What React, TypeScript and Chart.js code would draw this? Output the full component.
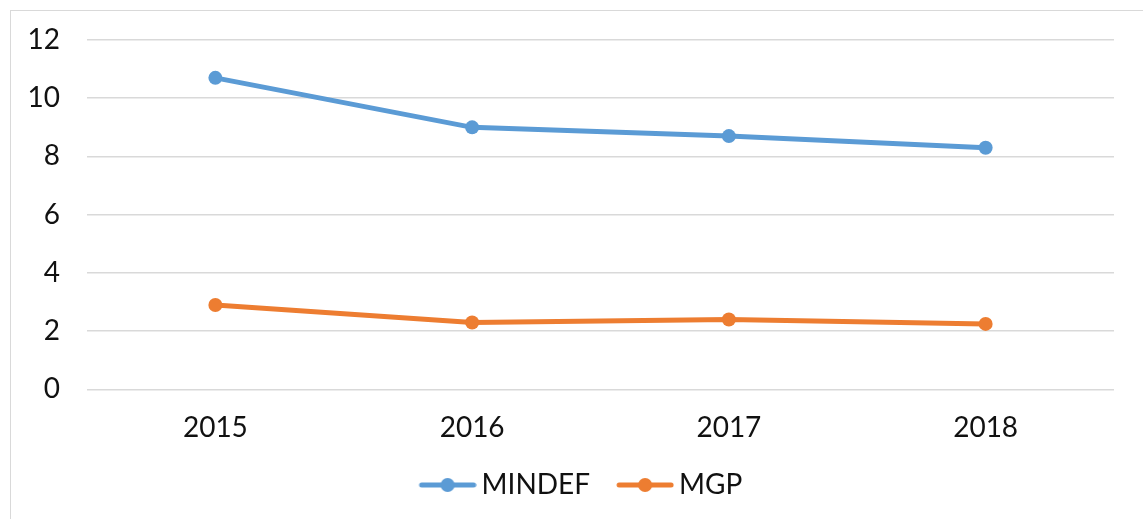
import React, { useEffect, useRef } from "react";
import { Chart, registerables } from "chart.js";

Chart.register(...registerables);

const categories = ["2015", "2016", "2017", "2018"];
const mindefValues = [10.7, 9.0, 8.7, 8.3];
const mgpValues = [2.9, 2.3, 2.4, 2.25];
const yTicks = [0, 2, 4, 6, 8, 10, 12];

const BLUE = "#5B9BD5";
const ORANGE = "#ED7D31";
const FONT = "Lato, 'Noto Sans', sans-serif";

function makeLegendIcon(color: string): HTMLCanvasElement {
  const c = document.createElement("canvas");
  c.width = 62;
  c.height = 16;
  const ctx = c.getContext("2d")!;
  ctx.strokeStyle = color;
  ctx.lineWidth = 5;
  ctx.lineCap = "round";
  ctx.beginPath();
  ctx.moveTo(7, 8);
  ctx.lineTo(59, 8);
  ctx.stroke();
  ctx.fillStyle = color;
  ctx.beginPath();
  ctx.arc(33, 8, 7, 0, Math.PI * 2);
  ctx.fill();
  return c;
}

const legendShift = {
  id: "legendShift",
  afterLayout(chart: any) {
    const lg = chart.legend;
    if (lg) {
      lg.left += 26;
      lg.right += 26;
    }
  },
};

export default function App() {
  const ref = useRef<HTMLCanvasElement | null>(null);

  useEffect(() => {
    document.body.style.margin = "0";
    const icons = [makeLegendIcon(BLUE), makeLegendIcon(ORANGE)];
    const chart = new Chart(ref.current!, {
      type: "line",
      data: {
        labels: categories,
        datasets: [
          {
            label: "MINDEF",
            data: mindefValues,
            borderColor: BLUE,
            backgroundColor: BLUE,
            borderWidth: 5,
            pointRadius: 7,
            pointBorderWidth: 0,
            pointBackgroundColor: BLUE,
            tension: 0,
          },
          {
            label: "MGP",
            data: mgpValues,
            borderColor: ORANGE,
            backgroundColor: ORANGE,
            borderWidth: 5,
            pointRadius: 7,
            pointBorderWidth: 0,
            pointBackgroundColor: ORANGE,
            tension: 0,
          },
        ],
      },
      plugins: [legendShift],
      options: {
        animation: false,
        responsive: false,
        maintainAspectRatio: false,
        layout: { padding: { left: 0, right: 29, top: 40, bottom: 10 } },
        plugins: {
          tooltip: { enabled: false },
          legend: {
            position: "bottom",
            labels: {
              usePointStyle: true,
              pointStyleWidth: 44,
              padding: 31,
              color: "#111",
              font: { family: FONT, size: 28 },
              generateLabels: (ch: any) =>
                ch.data.datasets.map((ds: any, i: number) => ({
                  text: ds.label,
                  fillStyle: ds.borderColor,
                  strokeStyle: ds.borderColor,
                  lineWidth: 0,
                  pointStyle: icons[i],
                  datasetIndex: i,
                  hidden: false,
                  fontColor: "#111",
                })),
            },
          },
        },
        scales: {
          x: {
            offset: true,
            grid: { display: false, drawTicks: false },
            border: { display: false },
            afterFit: (scale: any) => {
              scale.height = scale.height - 27;
            },
            ticks: {
              padding: 22,
              color: "#111",
              font: { family: FONT, size: 28 },
            },
          },
          y: {
            min: 0,
            max: 12,
            afterBuildTicks: (scale: any) => {
              scale.ticks = yTicks.map((v) => ({ value: v }));
            },
            afterFit: (scale: any) => {
              scale.width = 87;
              scale.paddingTop = 0;
              scale.paddingBottom = 0;
            },
            grid: { color: "#d9d9d9", lineWidth: 1.5, drawTicks: false },
            border: { display: false },
            ticks: {
              padding: 27,
              color: "#111",
              font: { family: FONT, size: 28 },
            },
          },
        },
      },
    });
    return () => chart.destroy();
  }, []);

  return (
    <div style={{ position: "relative", width: 1143, height: 519, background: "#fff", overflow: "hidden" }}>
      <div
        style={{
          position: "absolute",
          left: 10,
          top: 10,
          width: 1200,
          height: 600,
          borderLeft: "1.5px solid #d9d9d9",
          borderTop: "1.5px solid #d9d9d9",
        }}
      />
      <canvas ref={ref} width={1143} height={519} style={{ position: "absolute", left: 0, top: 0 }} />
    </div>
  );
}
